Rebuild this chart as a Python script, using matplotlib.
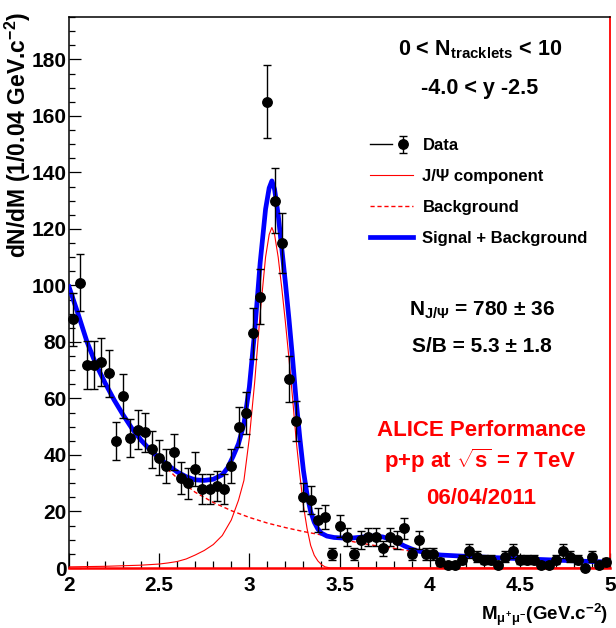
import matplotlib
matplotlib.use("Agg")
import matplotlib.pyplot as plt
import numpy as np
from matplotlib.lines import Line2D
from matplotlib.legend_handler import HandlerTuple
from matplotlib.ticker import MultipleLocator

SANS = ["Liberation Sans", "DejaVu Sans"]

plt.rcParams["mathtext.fontset"] = "custom"
for key in ("rm", "it", "bf", "sf"):
    plt.rcParams[f"mathtext.{key}"] = "Liberation Sans:bold"

# dimuon invariant mass histogram, 0.04 GeV bins (counts per bin)
mass = [2.02, 2.06, 2.10, 2.14, 2.18, 2.22, 2.26, 2.30, 2.34, 2.38,
        2.42, 2.46, 2.50, 2.54, 2.58, 2.62, 2.66, 2.70, 2.74, 2.78,
        2.82, 2.86, 2.90, 2.94, 2.98, 3.02, 3.06, 3.10, 3.14, 3.18,
        3.22, 3.26, 3.30, 3.34, 3.38, 3.42, 3.46, 3.50, 3.54, 3.58,
        3.62, 3.66, 3.70, 3.74, 3.78, 3.82, 3.86, 3.90, 3.94, 3.98,
        4.02, 4.06, 4.10, 4.14, 4.18, 4.22, 4.26, 4.30, 4.34, 4.38,
        4.42, 4.46, 4.50, 4.54, 4.58, 4.62, 4.66, 4.70, 4.74, 4.78,
        4.82, 4.86, 4.90, 4.94, 4.98]
counts = [88, 101, 72, 72, 73, 69, 45, 61, 46, 49,
          48, 42, 39, 36, 41, 32, 30, 35, 28, 28,
          29, 28, 36, 50, 55, 83, 96, 165, 130, 115,
          67, 52, 25, 24, 17, 18, 5, 15, 11, 5,
          10, 11, 11, 7, 11, 10, 14, 5, 10, 5,
          5, 2, 1, 1, 3, 6, 4, 3, 3, 1,
          4, 6, 3, 3, 3, 1, 1, 3, 6, 4,
          3, 0, 4, 1, 2]

# fitted J/psi line shape (Crystal Ball)
jpsi_mass = [2.00, 2.10, 2.20, 2.30, 2.40, 2.50, 2.55, 2.60, 2.65, 2.70,
             2.75, 2.80, 2.85, 2.90, 2.94, 2.97, 3.00, 3.03, 3.06, 3.09,
             3.11, 3.125, 3.14, 3.16, 3.18, 3.20, 3.22, 3.24, 3.26, 3.28,
             3.30, 3.32, 3.34, 3.36, 3.38, 3.40, 3.42, 3.45, 5.00]
jpsi_fit = [0.4, 0.5, 0.6, 0.8, 1.0, 1.4, 1.8, 2.3, 3.2, 4.6,
            6.2, 8.3, 11.5, 17.0, 24.0, 31.0, 46.0, 66.0, 90.0, 110.0,
            118.0, 120.5, 118.0, 110.0, 99.0, 87.0, 74.0, 60.0, 45.0, 33.0,
            22.0, 14.0, 8.0, 4.5, 2.5, 1.2, 0.4, 0.0, 0.0]

# fitted continuum
bkg_mass = [2.0, 2.1, 2.2, 2.3, 2.4, 2.5, 2.6, 2.7, 2.8, 2.9, 3.0, 3.1, 3.2,
            3.3, 3.4, 3.5, 3.6, 3.7, 3.8, 3.9, 4.0, 4.2, 4.4, 4.6, 4.8, 5.0]
bkg_fit = [99.0, 79.5, 65.0, 53.8, 44.8, 37.8, 31.8, 26.8, 23.2, 20.3, 17.9,
           15.9, 14.3, 12.9, 11.7, 10.3, 9.0, 7.9, 7.0, 5.9, 5.1, 4.1, 3.5,
           2.95, 2.5, 2.05]

# total fit (signal + background)
total_mass = [2.00, 2.05, 2.10, 2.15, 2.20, 2.25, 2.30, 2.35, 2.40, 2.45,
              2.50, 2.55, 2.60, 2.65, 2.70, 2.75, 2.80, 2.85, 2.88, 2.91,
              2.94, 2.97, 3.00, 3.03, 3.06, 3.09, 3.11, 3.125, 3.14, 3.16,
              3.18, 3.20, 3.22, 3.24, 3.26, 3.28, 3.30, 3.32, 3.34, 3.36,
              3.38, 3.40, 3.43, 3.47, 3.55, 3.62, 3.68, 3.74, 3.80, 3.86,
              3.92, 4.00, 4.06, 4.15, 4.25, 4.35, 4.50, 4.70, 4.85, 5.00]
total_fit = [99.5, 90.0, 80.0, 72.0, 65.5, 59.5, 54.2, 49.3, 45.2, 41.8,
             38.9, 36.3, 34.0, 32.3, 31.2, 31.0, 31.4, 33.0, 35.5, 39.5,
             44.0, 51.0, 64.0, 84.0, 108.0, 127.0, 134.5, 137.0, 134.0, 125.0,
             113.0, 101.0, 88.0, 74.0, 59.0, 46.0, 34.5, 26.0, 20.0, 16.2,
             13.8, 12.3, 11.3, 10.8, 10.5, 10.9, 11.3, 11.0, 9.8, 7.8,
             6.2, 5.2, 4.6, 4.3, 4.0, 3.7, 3.3, 2.8, 2.4, 2.1]

n_jpsi, n_jpsi_err = 780, 36
s_over_b, s_over_b_err = 5.3, 1.8

xticks = [2.0, 2.5, 3.0, 3.5, 4.0, 4.5, 5.0]
xtick_labels = ["2", "2.5", "3", "3.5", "4", "4.5", "5"]
yticks = [0, 20, 40, 60, 80, 100, 120, 140, 160, 180]
ytick_labels = ["0", "20", "40", "60", "80", "100", "120", "140", "160", "180"]

RED = "#ff0000"
BLUE = "#0000ff"

fig = plt.figure(figsize=(6.16, 6.28), dpi=100)
ax = fig.add_axes([69 / 616, 60 / 628, 541 / 616, 551 / 628])

ax.plot(jpsi_mass, jpsi_fit, color=RED, lw=0.8, zorder=3)
ax.plot(bkg_mass, bkg_fit, color=RED, lw=1.0, dashes=(3, 2), zorder=3)
ax.plot(total_mass, total_fit, color=BLUE, lw=3.4, zorder=4,
        solid_joinstyle="round")

counts_arr = np.asarray(counts, dtype=float)
eb = ax.errorbar(mass, counts_arr, yerr=np.sqrt(counts_arr), fmt="o",
                 color="black", ms=6.8, elinewidth=1.0, capsize=2.6,
                 capthick=1.0, zorder=5, clip_on=False)

ax.set_xlim(2, 5)
ax.set_ylim(0, 195)
ax.set_xticks(xticks, xtick_labels)
ax.set_yticks(yticks, ytick_labels)
ax.xaxis.set_minor_locator(MultipleLocator(0.1))
ax.yaxis.set_minor_locator(MultipleLocator(5))
ax.tick_params(which="both", direction="in", top=False, right=False, width=0.9)
ax.tick_params(axis="x", which="major", length=10.5, pad=6)
ax.tick_params(axis="x", which="minor", length=5)
ax.tick_params(axis="y", which="major", length=8.5, pad=1.5)
ax.tick_params(axis="y", which="minor", length=4.3)
for lbl in ax.get_xticklabels() + ax.get_yticklabels():
    lbl.set_fontfamily(SANS)
    lbl.set_fontweight("bold")
    lbl.set_fontsize(15)

ax.spines["left"].set_color("black")
ax.spines["top"].set_color("black")
ax.spines["left"].set_linewidth(1.1)
ax.spines["top"].set_linewidth(1.1)
ax.spines["right"].set_color(RED)
ax.spines["right"].set_linewidth(1.3)
ax.spines["bottom"].set_color(RED)
ax.spines["bottom"].set_linewidth(1.8)

# legend
data_handle = (Line2D([0], [0], color="black", lw=1.0), eb)
handles = [data_handle,
           Line2D([0], [0], color=RED, lw=0.8),
           Line2D([0], [0], color=RED, lw=1.0, dashes=(3, 2)),
           Line2D([0], [0], color=BLUE, lw=3.4)]
labels = ["Data", "J/\u03a8 component", "Background", "Signal + Background"]
ax.legend(handles, labels, loc="upper left",
          bbox_to_anchor=(370 / 616, 1 - 138 / 628),
          bbox_transform=fig.transFigure, frameon=False,
          handler_map={tuple: HandlerTuple(ndivide=None)},
          prop=dict(family=SANS, weight="bold", size=12),
          handlelength=2.6, handletextpad=0.55, labelspacing=0.95,
          borderpad=0, borderaxespad=0)

# annotations
fig.text(0.779, 0.911, r"0 < N$_{\mathrm{tracklets}}$ < 10", ha="center",
         va="baseline", size=15.5, family=SANS, weight="bold")
fig.text(0.779, 0.850, "-4.0 < y -2.5", ha="center", va="baseline",
         size=15.5, family=SANS, weight="bold")
fig.text(0.782, 0.497, rf"N$_{{\mathrm{{J/\Psi}}}}$ = {n_jpsi} ± {n_jpsi_err}",
         ha="center", va="baseline", size=15, family=SANS, weight="bold")
fig.text(0.782, 0.439, f"S/B = {s_over_b} ± {s_over_b_err}", ha="center",
         va="baseline", size=15, family=SANS, weight="bold")
fig.text(0.781, 0.306, "ALICE Performance", ha="center", va="baseline",
         size=16, family=SANS, weight="bold", color=RED)
fig.text(0.779, 0.255, r"p+p at $\sqrt{s}$ = 7 TeV", ha="center",
         va="baseline", size=16, family=SANS, weight="bold", color=RED)
fig.text(0.781, 0.197, "06/04/2011", ha="center", va="baseline",
         size=16, family=SANS, weight="bold", color=RED)

fig.text(0.987, 0.0127, r"M$_{\mu^{+}\mu^{-}}$(GeV.c$^{-2}$)", ha="right",
         va="baseline", size=13.5, family=SANS, weight="bold")
fig.text(18 / 616, 1 - 12 / 628, r"dN/dM (1/0.04 GeV.c$^{-2}$)",
         rotation=90, ha="center", va="top", size=16.5, family=SANS,
         weight="bold")

fig.savefig("out.png", dpi=100)
